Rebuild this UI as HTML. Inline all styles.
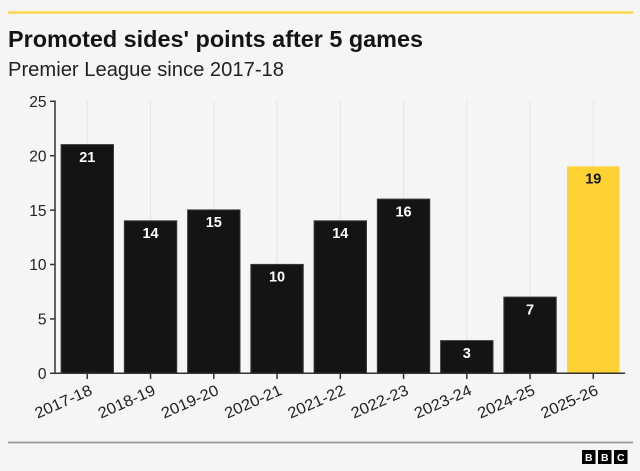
<!DOCTYPE html>
<html>
<head>
<meta charset="utf-8">
<style>
  html,body{margin:0;padding:0;background:#f5f5f5;}
  svg{display:block;}
  text{font-family:"Liberation Sans", "DejaVu Sans", sans-serif;}
</style>
</head>
<body>
<svg width="640" height="471" viewBox="0 0 640 471" xmlns="http://www.w3.org/2000/svg">
  <rect x="0" y="0" width="640" height="471" fill="#f5f5f5"/>
  <!-- top yellow rule -->
  <line x1="8" y1="12.5" x2="633" y2="12.5" stroke="#fcd54a" stroke-width="2.5"/>
  <!-- title -->
  <text x="8" y="47" font-size="23.5" font-weight="bold" fill="#141414" textLength="415" lengthAdjust="spacingAndGlyphs">Promoted sides' points after 5 games</text>
  <text x="8" y="76" font-size="20" fill="#222" textLength="276" lengthAdjust="spacingAndGlyphs">Premier League since 2017-18</text>

  <!-- gridlines -->
  <g stroke="#e4e4e4" stroke-width="1">
    <line x1="87.3" y1="101" x2="87.3" y2="373"/>
    <line x1="150.55" y1="101" x2="150.55" y2="373"/>
    <line x1="213.8" y1="101" x2="213.8" y2="373"/>
    <line x1="277.05" y1="101" x2="277.05" y2="373"/>
    <line x1="340.3" y1="101" x2="340.3" y2="373"/>
    <line x1="403.55" y1="101" x2="403.55" y2="373"/>
    <line x1="466.8" y1="101" x2="466.8" y2="373"/>
    <line x1="530.05" y1="101" x2="530.05" y2="373"/>
    <line x1="593.3" y1="101" x2="593.3" y2="373"/>
  </g>

  <!-- bars -->
  <g stroke="#3a3a3a" stroke-width="1">
    <rect x="61.1" y="144.6" width="52.4" height="228.7" fill="#141414"/>
    <rect x="124.35" y="220.8" width="52.4" height="152.5" fill="#141414"/>
    <rect x="187.6" y="209.9" width="52.4" height="163.4" fill="#141414"/>
    <rect x="250.85" y="264.4" width="52.4" height="108.9" fill="#141414"/>
    <rect x="314.1" y="220.8" width="52.4" height="152.5" fill="#141414"/>
    <rect x="377.35" y="199.1" width="52.4" height="174.2" fill="#141414"/>
    <rect x="440.6" y="340.6" width="52.4" height="32.7" fill="#141414"/>
    <rect x="503.85" y="297.1" width="52.4" height="76.2" fill="#141414"/>
  </g>
  <rect x="567.1" y="166.4" width="52.4" height="206.9" fill="#fdd232"/>

  <!-- value labels -->
  <g font-size="14.5" font-weight="bold" fill="#ffffff" text-anchor="middle">
    <text x="87.3" y="161.8">21</text>
    <text x="150.55" y="238">14</text>
    <text x="213.8" y="227.1">15</text>
    <text x="277.05" y="281.6">10</text>
    <text x="340.3" y="238">14</text>
    <text x="403.55" y="216.3">16</text>
    <text x="466.8" y="357.8">3</text>
    <text x="530.05" y="314.3">7</text>
    <text x="593.3" y="183.6" fill="#141414">19</text>
  </g>

  <!-- y axis -->
  <line x1="55" y1="100.5" x2="55" y2="373.5" stroke="#333" stroke-width="1.5"/>
  <g stroke="#333" stroke-width="1.5">
    <line x1="50" y1="101.3" x2="55" y2="101.3"/>
    <line x1="50" y1="155.7" x2="55" y2="155.7"/>
    <line x1="50" y1="210.1" x2="55" y2="210.1"/>
    <line x1="50" y1="264.5" x2="55" y2="264.5"/>
    <line x1="50" y1="318.9" x2="55" y2="318.9"/>
  </g>
  <g font-size="15.5" fill="#222" text-anchor="end">
    <text x="46.5" y="107">25</text>
    <text x="46.5" y="161.4">20</text>
    <text x="46.5" y="215.8">15</text>
    <text x="46.5" y="270.2">10</text>
    <text x="46.5" y="324.6">5</text>
    <text x="46.5" y="379">0</text>
  </g>

  <!-- x axis -->
  <line x1="50" y1="373.3" x2="625" y2="373.3" stroke="#333" stroke-width="1.5"/>
  <g stroke="#333" stroke-width="1.5">
    <line x1="87.3" y1="373" x2="87.3" y2="379"/>
    <line x1="150.55" y1="373" x2="150.55" y2="379"/>
    <line x1="213.8" y1="373" x2="213.8" y2="379"/>
    <line x1="277.05" y1="373" x2="277.05" y2="379"/>
    <line x1="340.3" y1="373" x2="340.3" y2="379"/>
    <line x1="403.55" y1="373" x2="403.55" y2="379"/>
    <line x1="466.8" y1="373" x2="466.8" y2="379"/>
    <line x1="530.05" y1="373" x2="530.05" y2="379"/>
    <line x1="593.3" y1="373" x2="593.3" y2="379"/>
  </g>
  <g font-size="15.5" fill="#222" text-anchor="end">
    <text transform="translate(93.3,394) rotate(-24)" textLength="61" lengthAdjust="spacingAndGlyphs">2017-18</text>
    <text transform="translate(156.55,394) rotate(-24)" textLength="61" lengthAdjust="spacingAndGlyphs">2018-19</text>
    <text transform="translate(219.8,394) rotate(-24)" textLength="61" lengthAdjust="spacingAndGlyphs">2019-20</text>
    <text transform="translate(283.05,394) rotate(-24)" textLength="61" lengthAdjust="spacingAndGlyphs">2020-21</text>
    <text transform="translate(346.3,394) rotate(-24)" textLength="61" lengthAdjust="spacingAndGlyphs">2021-22</text>
    <text transform="translate(409.55,394) rotate(-24)" textLength="61" lengthAdjust="spacingAndGlyphs">2022-23</text>
    <text transform="translate(472.8,394) rotate(-24)" textLength="61" lengthAdjust="spacingAndGlyphs">2023-24</text>
    <text transform="translate(536.05,394) rotate(-24)" textLength="61" lengthAdjust="spacingAndGlyphs">2024-25</text>
    <text transform="translate(599.3,394) rotate(-24)" textLength="61" lengthAdjust="spacingAndGlyphs">2025-26</text>
  </g>

  <!-- bottom rule -->
  <line x1="8" y1="442.5" x2="633" y2="442.5" stroke="#9a9a9a" stroke-width="1.8"/>

  <!-- BBC logo -->
  <rect x="582" y="450" width="13.5" height="14" fill="#000"/>
  <rect x="598" y="450" width="13.5" height="14" fill="#000"/>
  <rect x="614" y="450" width="13.5" height="14" fill="#000"/>
  <g font-size="10.5" font-weight="bold" fill="#fff" text-anchor="middle">
    <text x="588.75" y="461">B</text>
    <text x="604.75" y="461">B</text>
    <text x="620.75" y="461">C</text>
  </g>
</svg>
</body>
</html>
